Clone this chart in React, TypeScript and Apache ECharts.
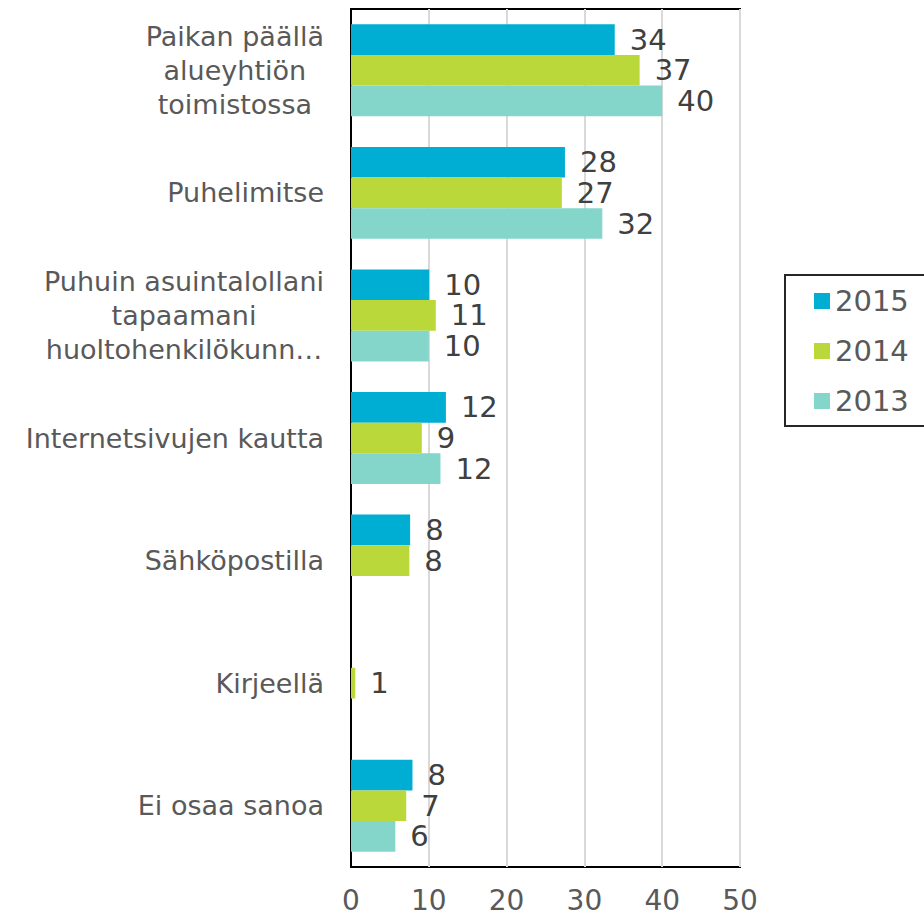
import React, { useEffect, useRef } from "react";
import * as echarts from "echarts";

const categories = [
  "Paikan päällä\nalueyhtiön\ntoimistossa",
  "Puhelimitse",
  "Puhuin asuintalollani\ntapaamani\nhuoltohenkilökunn…",
  "Internetsivujen kautta",
  "Sähköpostilla",
  "Kirjeellä",
  "Ei osaa sanoa",
];
const seriesNames = ["2015", "2014", "2013"];
const values2015 = [33.9, 27.5, 10.05, 12.2, 7.6, null, 7.9];
const values2014 = [37.1, 27.1, 10.9, 9.1, 7.5, 0.55, 7.1];
const values2013 = [40.0, 32.3, 10.0, 11.5, null, null, 5.7];
const xTicks = [0, 10, 20, 30, 40, 50];
const colors = ["#00AED4", "#BBD83A", "#85D6CA"];

const FONT = "DejaVu Sans";

export default function App() {
  const ref = useRef<HTMLDivElement>(null);
  useEffect(() => {
    document.body.style.margin = "0";
    if (!ref.current) return;
    const chart = echarts.init(ref.current, undefined, { renderer: "svg" });
    const allValues = [values2015, values2014, values2013];
    chart.setOption({
      animation: false,
      backgroundColor: "#ffffff",
      textStyle: { fontFamily: FONT },
      grid: {
        left: 351,
        top: 9,
        right: 184,
        bottom: 50,
        show: true,
        borderColor: "#000000",
        borderWidth: 2,
        containLabel: false,
      },
      legend: {
        orient: "vertical",
        left: 785,
        top: 275,
        padding: [9, 40, 8, 29],
        itemGap: 16,
        itemWidth: 16,
        itemHeight: 16,
        icon: "rect",
        borderColor: "#262626",
        borderWidth: 2,
        data: seriesNames,
        textStyle: {
          fontSize: 29,
          lineHeight: 34,
          color: "#595959",
          fontFamily: FONT,
        },
      },
      xAxis: {
        type: "value",
        min: xTicks[0],
        max: xTicks[xTicks.length - 1],
        interval: 10,
        axisLine: { show: false },
        axisTick: { show: false },
        splitLine: { show: true, lineStyle: { color: "#D9D9D9", width: 2 } },
        axisLabel: {
          fontSize: 28,
          lineHeight: 24,
          color: "#595959",
          fontFamily: FONT,
          margin: 21,
        },
      },
      yAxis: {
        type: "category",
        inverse: true,
        data: categories,
        axisLine: { show: true, lineStyle: { color: "#000000", width: 2 } },
        axisTick: { show: false },
        axisLabel: {
          margin: 27,
          formatter: (v: string) =>
            v
              .split("\n")
              .map((l) => `{c|${l}}`)
              .join("\n"),
          rich: {
            c: {
              align: "center",
              fontSize: 27,
              lineHeight: 34,
              color: "#595959",
              fontFamily: FONT,
            },
          },
        },
      },
      series: seriesNames.map((name, i) => ({
        name,
        type: "bar",
        data: allValues[i],
        barGap: "0%",
        barCategoryGap: "25%",
        itemStyle: { color: colors[i] },
        label: {
          show: true,
          position: "right",
          distance: 15,
          fontSize: 29,
          color: "#404040",
          fontFamily: FONT,
          formatter: (p: any) => String(Math.round(p.value)),
        },
      })),
    });
    return () => chart.dispose();
  }, []);
  return <div ref={ref} style={{ width: 924, height: 917 }} />;
}
